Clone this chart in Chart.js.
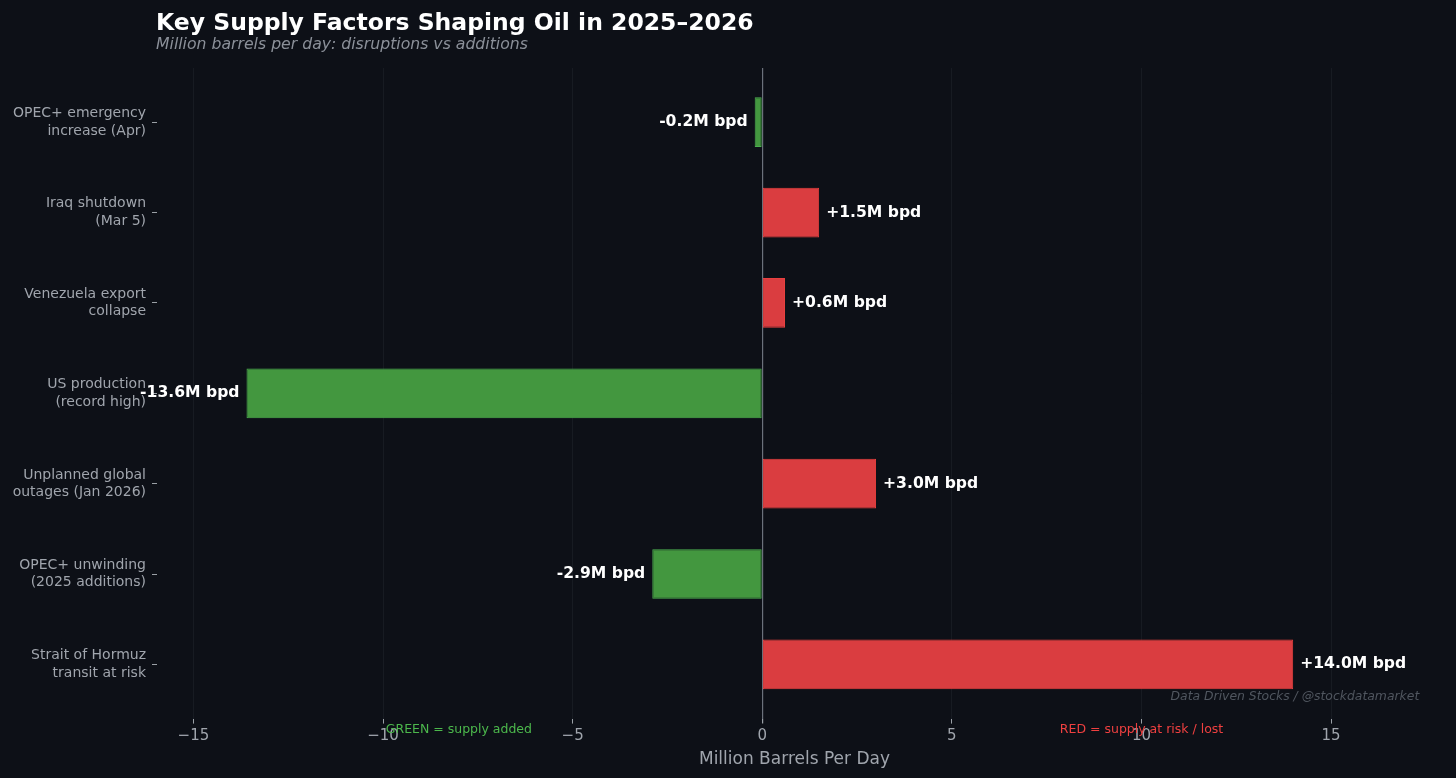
<!DOCTYPE html>
<html>
<head>
<meta charset="utf-8">
<script src="https://cdn.jsdelivr.net/npm/chart.js@4.4.1/dist/chart.umd.min.js"></script>
<style>
  html, body { margin: 0; padding: 0; background: #0d1017; }
  #wrap { width: 1456px; height: 778px; position: relative; }
</style>
</head>
<body>
<div id="wrap"><canvas id="c" width="1456" height="778"></canvas></div>
<script>
const categories = [
  ["OPEC+ emergency", "increase (Apr)"],
  ["Iraq shutdown", "(Mar 5)"],
  ["Venezuela export", "collapse"],
  ["US production", "(record high)"],
  ["Unplanned global", "outages (Jan 2026)"],
  ["OPEC+ unwinding", "(2025 additions)"],
  ["Strait of Hormuz", "transit at risk"]
];
const values = [-0.2, 1.5, 0.6, -13.6, 3.0, -2.9, 14.0];
const valueLabels = ["-0.2M bpd", "+1.5M bpd", "+0.6M bpd", "-13.6M bpd", "+3.0M bpd", "-2.9M bpd", "+14.0M bpd"];
const xTicks = [-15, -10, -5, 0, 5, 10, 15];
const titleText = "Key Supply Factors Shaping Oil in 2025\u20132026";
const subtitleText = "Million barrels per day: disruptions vs additions";
const xAxisTitle = "Million Barrels Per Day";
const greenNote = { text: "GREEN = supply added", x: -8 };
const redNote = { text: "RED = supply at risk / lost", x: 10 };
const watermark = "Data Driven Stocks / @stockdatamarket";

const RED_FILL = '#da3d40', RED_EDGE = '#e8403f';
const GREEN_FILL = '#43973f', GREEN_EDGE = '#4caf50';
const FONT = "'DejaVu Sans', sans-serif";

const points = values.map((v, i) => ({ x: v, y: i }));

const overlay = {
  id: 'overlay',
  afterDatasetsDraw(chart) {
    const ctx = chart.ctx;
    const xs = chart.scales.x, ys = chart.scales.y;
    const area = chart.chartArea;
    ctx.save();
    // value labels
    ctx.font = "bold 15.6px " + FONT;
    ctx.fillStyle = '#ffffff';
    ctx.textBaseline = 'middle';
    values.forEach((v, i) => {
      const px = xs.getPixelForValue(v);
      const py = ys.getPixelForValue(i);
      if (v >= 0) { ctx.textAlign = 'left'; ctx.fillText(valueLabels[i], px + 7, py); }
      else { ctx.textAlign = 'right'; ctx.fillText(valueLabels[i], px - 7, py); }
    });
    // title and subtitle
    ctx.textAlign = 'left';
    ctx.textBaseline = 'alphabetic';
    ctx.font = "bold 23.5px " + FONT;
    ctx.fillStyle = '#ffffff';
    ctx.fillText(titleText, 156, 30);
    ctx.font = "italic 15.7px " + FONT;
    ctx.fillStyle = '#8b9099';
    ctx.fillText(subtitleText, 156, 49);
    // watermark
    ctx.font = "italic 12.4px " + FONT;
    ctx.fillStyle = '#50565f';
    ctx.textAlign = 'right';
    ctx.textBaseline = 'middle';
    ctx.fillText(watermark, area.left + 0.99 * (area.right - area.left), 697);
    // notes
    ctx.textAlign = 'center';
    ctx.font = "12.5px " + FONT;
    ctx.fillStyle = '#4cb84c';
    ctx.fillText(greenNote.text, xs.getPixelForValue(greenNote.x), 730);
    ctx.fillStyle = '#ef4040';
    ctx.fillText(redNote.text, xs.getPixelForValue(redNote.x), 730);
    ctx.restore();
  }
};

const bgPlugin = {
  id: 'bg',
  beforeDraw(chart) {
    const ctx = chart.ctx;
    ctx.save();
    ctx.fillStyle = '#0d1017';
    ctx.fillRect(0, 0, chart.width, chart.height);
    ctx.restore();
  }
};

new Chart(document.getElementById('c'), {
  type: 'bar',
  data: {
    datasets: [{
      data: points,
      backgroundColor: values.map(v => v >= 0 ? RED_FILL : GREEN_FILL),
      borderColor: values.map(v => v >= 0 ? RED_EDGE : GREEN_EDGE),
      borderWidth: 1,
      borderSkipped: false,
      barPercentage: 0.55,
      categoryPercentage: 1.0
    }]
  },
  options: {
    indexAxis: 'y',
    responsive: false,
    animation: false,
    devicePixelRatio: 1,
    layout: { padding: { top: 68, right: 24, bottom: 0, left: 0 } },
    plugins: { legend: { display: false }, tooltip: { enabled: false } },
    scales: {
      x: {
        type: 'linear',
        min: -15.96,
        max: 17.66,
        afterBuildTicks: s => { s.ticks = xTicks.map(v => ({ value: v })); },
        border: { display: false },
        grid: {
          color: c => (c.tick && c.tick.value === 0) ? '#6b717b' : '#171b22',
          lineWidth: c => (c.tick && c.tick.value === 0) ? 1.2 : 1,
          tickColor: '#9aa0a6',
          tickLength: 5,
          drawTicks: true
        },
        ticks: {
          color: '#a0a5ad',
          font: { family: FONT, size: 15 },
          padding: 4,
          callback: v => (v < 0 ? '\u2212' + Math.abs(v) : String(v))
        },
        title: {
          display: true,
          text: xAxisTitle,
          color: '#a0a5ad',
          font: { family: FONT, size: 17 },
          padding: { top: 0, bottom: 8 }
        }
      },
      y: {
        type: 'linear',
        reverse: true,
        offset: false,
        min: -0.6,
        max: 6.6,
        afterBuildTicks: s => { s.ticks = categories.map((_, i) => ({ value: i })); },
        border: { display: false },
        grid: {
          offset: false,
          color: 'rgba(0,0,0,0)',
          tickColor: '#9aa0a6',
          tickLength: 5,
          drawTicks: true
        },
        afterFit: s => { s.width = 157; },
        ticks: {
          color: '#a0a5ad',
          font: { family: FONT, size: 14, lineHeight: 1.25 },
          padding: 6,
          callback: v => categories[v] || ''
        }
      }
    }
  },
  plugins: [bgPlugin, overlay]
});
</script>
</body>
</html>
